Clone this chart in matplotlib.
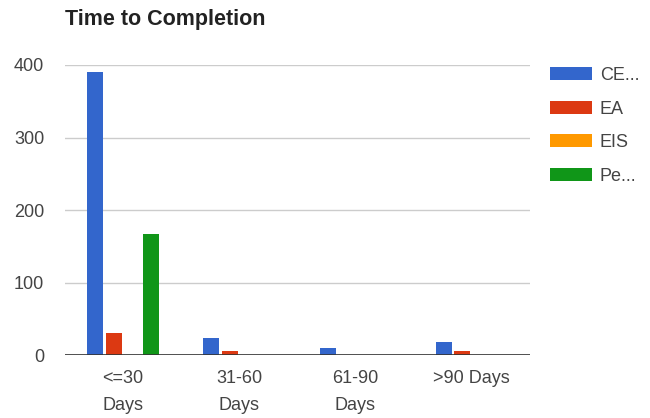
import numpy as np
import matplotlib.pyplot as plt

plt.rcParams['font.family'] = ['Liberation Sans', 'DejaVu Sans']

# data
categories = ['<=30\nDays', '31-60\nDays', '61-90\nDays', '>90 Days']
series_names = ['CE...', 'EA', 'EIS', 'Pe...']
ce = [391, 24, 10, 18]
ea = [31, 5, 0, 5]
eis = [0, 0, 0, 0]
pe = [167, 0, 0, 0]
colors = ['#3366cc', '#dc3912', '#ff9900', '#109618']

fig = plt.figure(figsize=(6.5, 4.18), dpi=100)
ax = fig.add_axes([0.1, 0.1507, 0.715, 0.6938])

x = np.arange(len(categories))
step = 0.16
width = 0.138
for i, (vals, name) in enumerate(zip([ce, ea, eis, pe], series_names)):
    ax.bar(x + (i - 1.5) * step, vals, width, color=colors[i], label=name, zorder=3)

ax.set_xlim(-0.5, 3.5)
ax.set_ylim(0, 400)
ax.set_yticks([0, 100, 200, 300, 400])
ax.grid(axis='y', color='#cccccc', linewidth=1, zorder=0)
ax.axhline(0, color='#333333', linewidth=1.2, zorder=4)
for s in ax.spines.values():
    s.set_visible(False)

ax.set_xticks(x)
ax.set_xticklabels(categories, linespacing=1.75)
ax.tick_params(axis='both', length=0, labelsize=13, labelcolor='#444444')
ax.tick_params(axis='y', pad=15)
ax.tick_params(axis='x', pad=11)

fig.text(65 / 650, 1 - 19 / 418, 'Time to Completion', fontsize=15.5,
         fontweight='bold', color='#222222', va='center', ha='left')

ax.legend(loc='upper left', bbox_to_anchor=(550 / 650, 1 - 67 / 418),
          bbox_transform=fig.transFigure, frameon=False, fontsize=13,
          handlelength=2.3, handleheight=0.72, handletextpad=0.45,
          labelspacing=0.92, borderpad=0, borderaxespad=0, labelcolor='#444444')

fig.savefig('out.png', dpi=100)
